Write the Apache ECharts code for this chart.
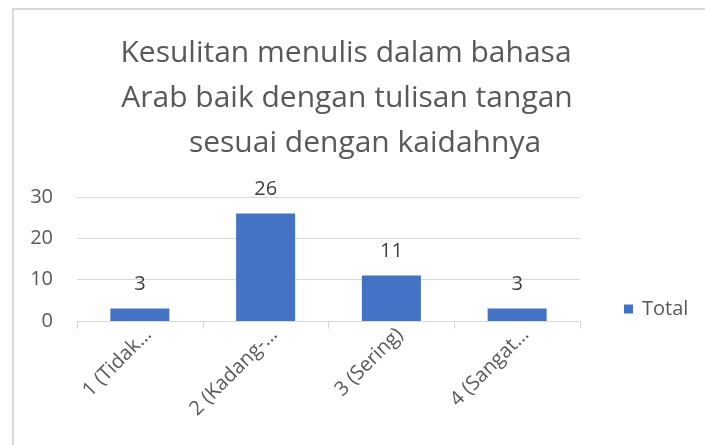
<!DOCTYPE html>
<html>
<head>
<meta charset="utf-8">
<script src="https://cdn.jsdelivr.net/npm/echarts@6/dist/echarts.min.js"></script>
<style>
  html, body { margin: 0; padding: 0; background: #ffffff; }
  #frame { position: absolute; left: 12px; top: 8px; width: 720px; height: 460px;
           border-left: 2px solid #d9d9d9; border-top: 2px solid #d9d9d9; box-sizing: border-box; }
  #chart { position: absolute; left: 0; top: 0; width: 705px; height: 445px; }
</style>
</head>
<body>
<div id="frame"></div>
<div id="chart"></div>
<script>
const titleLines = ['Kesulitan menulis dalam bahasa', 'Arab baik dengan tulisan tangan', 'sesuai dengan kaidahnya'];
const categories = ['1 (Tidak…', '2 (Kadang-…', '3 (Sering)', '4 (Sangat…'];
const seriesName = 'Total';
const values = [3, 26, 11, 3];
const yTicks = { min: 0, max: 30, interval: 10 };

const FONT = 'Open Sans';
const chart = echarts.init(document.getElementById('chart'), null, { renderer: 'canvas' });

const titleX = [346, 347, 365];
const titleTop = [36, 81, 126];

chart.setOption({
  backgroundColor: 'transparent',
  animation: false,
  textStyle: { fontFamily: FONT },
  title: titleLines.map((t, i) => ({
    text: t,
    left: titleX[i],
    top: titleTop[i],
    textAlign: 'center',
    padding: 0,
    textStyle: { fontFamily: FONT, fontSize: 30, fontWeight: 'normal', color: '#595959', lineHeight: 34 }
  })),
  legend: {
    data: [seriesName],
    left: 624,
    top: 299,
    padding: 0,
    itemWidth: 9,
    itemHeight: 9,
    icon: 'rect',
    textStyle: { fontFamily: FONT, fontSize: 20, color: '#595959', padding: [0, 0, 0, 4] }
  },
  grid: { left: 77, right: 125, top: 197, bottom: 124, containLabel: false },
  xAxis: {
    type: 'category',
    data: categories,
    axisLine: { lineStyle: { color: '#d9d9d9', width: 1 } },
    axisTick: { show: true, length: 8, lineStyle: { color: '#d9d9d9' } },
    axisLabel: {
      interval: 0,
      rotate: 45,
      margin: 19,
      padding: [0, -12, 0, 0],
      fontFamily: FONT,
      fontSize: 20,
      color: '#595959'
    }
  },
  yAxis: {
    type: 'value',
    min: yTicks.min,
    max: yTicks.max,
    interval: yTicks.interval,
    axisLine: { show: false },
    axisTick: { show: false },
    splitLine: { lineStyle: { color: '#d9d9d9', width: 1 } },
    axisLabel: { margin: 24, fontFamily: FONT, fontSize: 20, color: '#595959' }
  },
  series: [{
    name: seriesName,
    type: 'bar',
    data: values,
    barWidth: 59,
    itemStyle: { color: '#4472C4' },
    label: {
      show: true,
      position: 'top',
      distance: 14,
      fontFamily: FONT,
      fontSize: 20,
      color: '#404040'
    }
  }]
});
</script>
</body>
</html>
